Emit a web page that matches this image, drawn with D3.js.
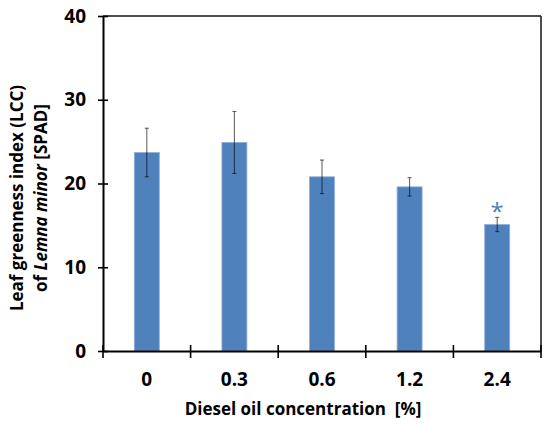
<!DOCTYPE html>
<html>
<head>
<meta charset="utf-8">
<script src="https://cdn.jsdelivr.net/npm/d3@7"></script>
<style>
html,body{margin:0;padding:0;background:#fff;}
svg{display:block;}
text{font-family:"Open Sans","Noto Sans",sans-serif;font-weight:bold;fill:#000;}
</style>
</head>
<body>
<script>
const categories = ["0", "0.3", "0.6", "1.2", "2.4"];
const means = [23.7, 24.9, 20.8, 19.6, 15.1];
const errors = [2.9, 3.7, 2.0, 1.1, 0.85];
const significant = [false, false, false, false, true];
const yTicks = [0, 10, 20, 30, 40];

const W = 550, H = 426;
const margin = {left: 103, right: 9, top: 16, bottom: 75};

const svg = d3.select("body").append("svg").attr("width", W).attr("height", H);

const x = d3.scaleBand().domain(categories)
  .range([margin.left, W - margin.right]).paddingInner(0).paddingOuter(0);
const y = d3.scaleLinear().domain([0, 40]).range([H - margin.bottom, margin.top]);

const barW = 25;

// frame (top & right)
svg.append("line").attr("x1", margin.left).attr("x2", W - margin.right)
  .attr("y1", y(40)).attr("y2", y(40)).attr("stroke", "#111").attr("stroke-width", 1.6);
svg.append("line").attr("x1", W - margin.right).attr("x2", W - margin.right)
  .attr("y1", y(40)).attr("y2", y(0)).attr("stroke", "#222").attr("stroke-width", 1.6);

// bars
svg.selectAll("rect.bar").data(categories).enter().append("rect")
  .attr("class", "bar")
  .attr("x", d => x(d) + x.bandwidth() / 2 - barW / 2)
  .attr("width", barW)
  .attr("y", (d, i) => y(means[i]))
  .attr("height", (d, i) => y(0) - y(means[i]))
  .attr("fill", "#4f81bd")
  .attr("stroke", "#8fb0da").attr("stroke-width", 0.8);

// error bars
const eg = svg.append("g").attr("stroke", "#000").attr("stroke-opacity", 0.6).attr("stroke-width", 1.1);
categories.forEach((c, i) => {
  const cx = x(c) + x.bandwidth() / 2;
  eg.append("line").attr("x1", cx).attr("x2", cx)
    .attr("y1", y(means[i] + errors[i])).attr("y2", y(means[i] - errors[i]));
  [means[i] + errors[i], means[i] - errors[i]].forEach(v => {
    eg.append("line").attr("x1", cx - 2).attr("x2", cx + 2)
      .attr("y1", y(v)).attr("y2", y(v));
  });
});

// significance asterisk
categories.forEach((c, i) => {
  if (!significant[i]) return;
  svg.append("text")
    .attr("x", x(c) + x.bandwidth() / 2)
    .attr("y", y(means[i] + errors[i]) + 3)
    .attr("text-anchor", "middle")
    .style("font-size", "24px").style("font-weight", "normal")
    .style("fill", "#4f81bd")
    .text("*");
});

// y axis
const yAxis = d3.axisLeft(y).tickValues(yTicks).tickSizeInner(5).tickSizeOuter(0).tickPadding(12);
const yg = svg.append("g").attr("transform", `translate(${margin.left},0)`).call(yAxis);
yg.select(".domain").attr("stroke", "#000").attr("stroke-width", 2);
yg.selectAll(".tick line").attr("stroke", "#000").attr("stroke-width", 1.6).attr("x2", 5).attr("x1", -5);
yg.selectAll(".tick text").style("font-size", "19px").style("font-family", "'Open Sans','Noto Sans',sans-serif").style("font-weight", "bold");

// x axis
const xAxis = d3.axisBottom(x).tickSize(0).tickPadding(22);
const xg = svg.append("g").attr("transform", `translate(0,${y(0)})`).call(xAxis);
xg.select(".domain").attr("stroke", "#000").attr("stroke-width", 2);
xg.selectAll(".tick text").style("font-size", "19px").style("font-family", "'Open Sans','Noto Sans',sans-serif").style("font-weight", "bold");
// category boundary ticks
const bounds = categories.map(c => x(c)).concat([x(categories[categories.length - 1]) + x.bandwidth()]);
xg.selectAll("line.bt").data(bounds).enter().append("line").attr("class", "bt")
  .attr("x1", d => d).attr("x2", d => d).attr("y1", -6).attr("y2", 7)
  .attr("stroke", "#000").attr("stroke-width", 1.6);

// axis titles
svg.append("text").attr("x", 303).attr("y", 415).attr("text-anchor", "middle")
  .style("font-size", "17px").text("Diesel oil concentration\u00a0\u00a0[%]");

const yl = svg.append("text").attr("transform", "translate(0,198) rotate(-90)").attr("text-anchor", "middle")
  .style("font-size", "17px");
yl.append("tspan").attr("x", 0).attr("y", 23).text("Leaf greenness index (LCC)");
const t2 = yl.append("tspan").attr("x", 0).attr("y", 47);
t2.append("tspan").text("of ");
t2.append("tspan").style("font-style", "italic").text("Lemna minor");
t2.append("tspan").text(" [SPAD]");
</script>
</body>
</html>
